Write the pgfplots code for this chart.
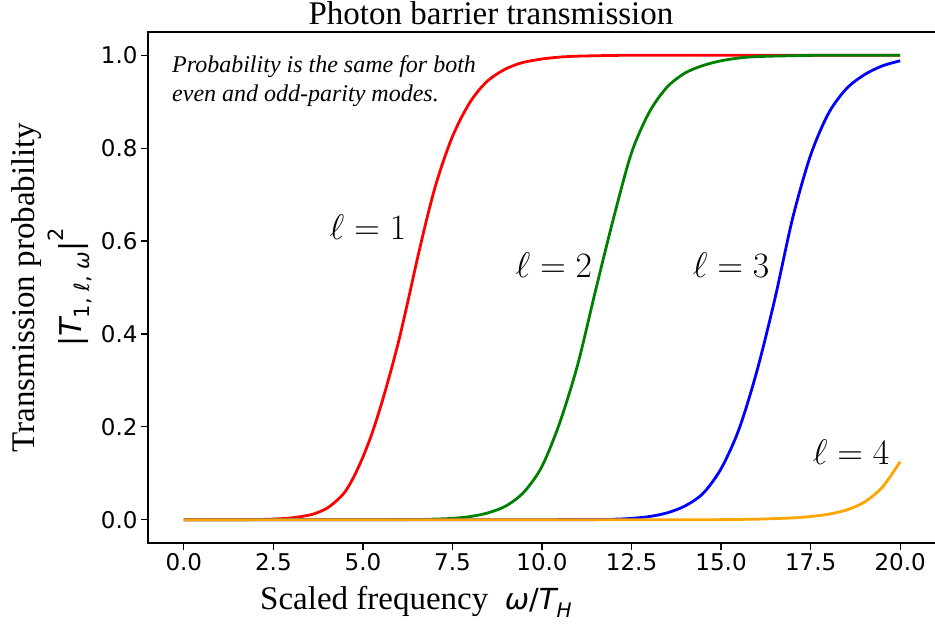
\documentclass[border=0pt]{standalone}
\usepackage{fontspec}
\setmainfont{Liberation Serif}
\newfontfamily\dejavu{DejaVu Sans}
\usepackage{pgfplots}
\pgfplotsset{compat=1.18}
\definecolor{mygreen}{HTML}{008000}
\definecolor{myorange}{HTML}{FFA500}

\begin{document}
\begin{tikzpicture}[x=1pt,y=1pt]
\useasboundingbox (0,0) rectangle (935,629);
\begin{axis}[
  at={(148pt,86pt)}, anchor=south west,
  scale only axis, width=788pt, height=511pt,
  xmin=-1, xmax=21, ymin=-0.05, ymax=1.05,
  xtick={0,2.5,5,7.5,10,12.5,15,17.5,20},
  ytick={0,0.2,0.4,0.6,0.8,1.0},
  xtick pos=bottom, ytick pos=left,
  tick align=outside, major tick length=7pt,
  every tick/.style={black, line width=1.2pt},
  axis line style={line width=1.3pt},
  /pgf/number format/assume math mode=true,
  tick label style={font=\dejavu\fontsize{23}{23}\selectfont},
  xticklabel style={/pgf/number format/.cd, fixed, fixed zerofill, precision=1},
  yticklabel style={/pgf/number format/.cd, fixed, fixed zerofill, precision=1},
  clip=false,
]
\addplot[red, line width=2.8pt, smooth] coordinates {
(0,0.0000) (1,0.0001) (2,0.0005) (2.5,0.0015) (3,0.004) (3.5,0.010) (3.75,0.016) (4,0.025)
(4.25,0.040) (4.5,0.060) (4.75,0.093) (5,0.135) (5.25,0.185) (5.5,0.245) (5.75,0.312)
(6,0.385) (6.25,0.468) (6.5,0.555) (6.75,0.637) (7,0.712) (7.25,0.773) (7.5,0.825)
(7.75,0.866) (8,0.900) (8.25,0.926) (8.5,0.946) (8.75,0.960) (9,0.971) (9.25,0.979)
(9.5,0.985) (10,0.992) (10.5,0.996) (11,0.998) (12,0.9995) (13,1.0) (20,1.0)
};
\addplot[mygreen, line width=2.8pt, smooth] coordinates {
(0,0) (6,0.0003) (7,0.0015) (7.5,0.003) (8,0.007) (8.5,0.015) (9,0.030) (9.5,0.060)
(10,0.115) (10.5,0.210) (11,0.335) (11.5,0.495) (12,0.650) (12.5,0.790) (13,0.878)
(13.5,0.932) (14,0.962) (14.5,0.978) (15,0.988) (15.5,0.994) (16,0.997) (17,0.999) (18,1.0) (20,1.0)
};
\addplot[blue, line width=2.8pt, smooth] coordinates {
(0,0) (11,0.0003) (12,0.0012) (12.5,0.003) (13,0.007) (13.5,0.015) (14,0.030) (14.5,0.057)
(15,0.110) (15.5,0.195) (16,0.320) (16.5,0.475) (17,0.650) (17.5,0.785) (18,0.875)
(18.5,0.928) (19,0.958) (19.5,0.977) (20,0.988)
};
\addplot[myorange, line width=2.8pt, smooth] coordinates {
(0,0) (14,0.0002) (15,0.0005) (16,0.0013) (17,0.004) (17.5,0.007) (18,0.012)
(18.5,0.021) (19,0.038) (19.5,0.070) (20,0.125)
};
\node[scale=1.72, font=\fontsize{20}{20}\selectfont] at (axis cs:5.14,0.630) {$\ell = 1$};
\node[scale=1.72, font=\fontsize{20}{20}\selectfont] at (axis cs:10.33,0.548) {$\ell = 2$};
\node[scale=1.72, font=\fontsize{20}{20}\selectfont] at (axis cs:15.28,0.548) {$\ell = 3$};
\node[scale=1.72, font=\fontsize{20}{20}\selectfont] at (axis cs:18.63,0.146) {$\ell = 4$};
\node[rotate=90, font=\fontsize{33}{33}\selectfont] at (rel axis cs:-0.1536,0.5) {Transmission probability};
\node[rotate=90] at (rel axis cs:-0.099,0.5) {{\dejavu\fontsize{30}{30}\selectfont |{\itshape T}\raisebox{-0.25em}{\fontsize{21}{21}\selectfont 1, {\itshape ℓ}, {\itshape ω}}|\raisebox{0.6em}{\fontsize{21}{21}\selectfont 2}}};
\end{axis}
\node[anchor=base, font=\fontsize{33}{33}\selectfont] at (491,604) {Photon barrier transmission};
\node[anchor=base west, inner sep=0pt, font=\fontsize{24}{24}\selectfont\itshape] at (172,556) {Probability is the same for both};
\node[anchor=base west, inner sep=0pt, font=\fontsize{24}{24}\selectfont\itshape] at (172,527) {even and odd-parity modes.};
\node[anchor=base west, inner sep=0pt] at (260,19) {\fontsize{33}{33}\selectfont Scaled frequency\ \ {\dejavu\fontsize{29}{29}\selectfont{\itshape ω}/{\itshape T}\raisebox{-0.25em}{\fontsize{20}{20}\selectfont\itshape H}}};
\end{tikzpicture}
\end{document}
